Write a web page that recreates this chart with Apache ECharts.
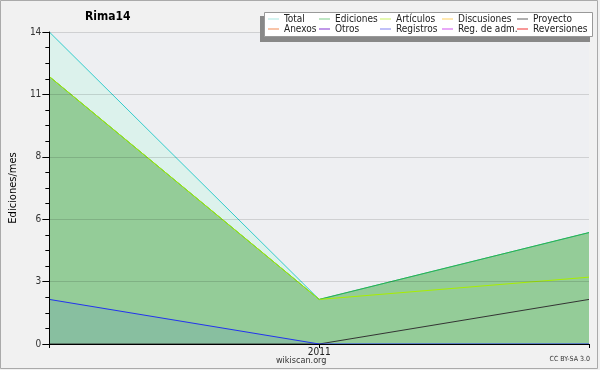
<!DOCTYPE html>
<html>
<head>
<meta charset="utf-8">
<script src="https://cdn.jsdelivr.net/npm/echarts@6/dist/echarts.min.js"></script>
<style>
html,body{margin:0;padding:0;background:#f1f1f1;}
#chart{width:600px;height:370px;}
</style>
</head>
<body>
<div id="chart"></div>
<script>
// ---- data ----
var categories = ['2010-12', '2011-01', '2011-02'];
var xTickLabels = ['', '2011', ''];
var totalValues = [14, 2, 5];
var edicionesValues = [12, 2, 5];
var articulosValues = [12, 2, 3];
var proyectoValues = [0, 0, 2];
var registrosValues = [2, 0, 0];
var emptyValues = [];
var legendCol1 = ['Total', 'Anexos'];
var legendCol2 = ['Ediciones', 'Otros'];
var legendCol3 = ['Artículos', 'Registros'];
var legendCol4 = ['Discusiones', 'Reg. de adm.'];
var legendCol5 = ['Proyecto', 'Reversiones'];

var FONT = "'DejaVu Sans Condensed', 'DejaVu Sans', sans-serif";
var legendColors = {
  'Total': '#a8e6e0', 'Ediciones': '#7ccc88', 'Artículos': '#c8f060',
  'Discusiones': '#ffd060', 'Proyecto': '#606060', 'Anexos': '#f08850',
  'Otros': '#8030d0', 'Registros': '#8080f0', 'Reg. de adm.': '#d050f0',
  'Reversiones': '#f03030'
};

function legendFor(names, left) {
  return {
    z: 100, zlevel: 0,
    left: left, top: 14, orient: 'vertical', padding: 0, itemGap: 0,
    itemWidth: 11, itemHeight: 1, icon: 'rect',
    selectedMode: false,
    textStyle: { fontFamily: FONT, fontSize: 10, color: '#222', lineHeight: 10, padding: [0, 0, 0, 0] },
    data: names.map(function (n) { return { name: n, itemStyle: { color: legendColors[n] } }; })
  };
}

function lineSeries(name, data, lineColor, areaColor) {
  var s = {
    name: name, type: 'line', data: data, symbol: 'none', silent: true,
    color: lineColor,
    lineStyle: { color: lineColor, width: 1 },
    animation: false
  };
  if (areaColor) s.areaStyle = { color: areaColor, opacity: 1 };
  return s;
}

var chart = echarts.init(document.getElementById('chart'), null, { renderer: 'canvas' });
chart.setOption({
  backgroundColor: '#f1f1f1',
  animation: false,
  title: {
    text: 'Rima14', left: 85, top: 11, padding: 0,
    textStyle: { fontFamily: FONT, fontSize: 12, fontWeight: 'bold', color: '#000' }
  },
  legend: [legendFor(legendCol1, 268), legendFor(legendCol2, 319), legendFor(legendCol3, 380), legendFor(legendCol4, 442), legendFor(legendCol5, 517)],
  grid: { left: 46, right: 11, top: 32, bottom: 26, show: true, backgroundColor: '#eeeff2', borderWidth: 0 },
  xAxis: {
    type: 'category', data: categories, boundaryGap: false, z: 10,
    axisLine: { lineStyle: { color: '#000', width: 1 } },
    axisTick: { show: true, interval: 0, length: 4, lineStyle: { color: '#000' } },
    axisLabel: {
      interval: 0, margin: 3, fontFamily: FONT, fontSize: 10, color: '#222',
      formatter: function (v, i) { return xTickLabels[i]; }
    },
    splitLine: { show: false }
  },
  yAxis: {
    type: 'value', min: 0, max: 14, interval: 2.8, z: 10,
    name: 'Ediciones/mes', nameLocation: 'middle', nameRotate: 90, nameGap: 29,
    nameTextStyle: { fontFamily: FONT, fontSize: 11, color: '#000' },
    axisLine: { show: true, lineStyle: { color: '#000', width: 1 } },
    axisTick: { show: true, length: 7, lineStyle: { color: '#000' } },
    minorTick: { show: true, splitNumber: 4, length: 4, lineStyle: { color: '#000' } },
    axisLabel: {
      margin: 8, fontFamily: FONT, fontSize: 10, color: '#333',
      formatter: function (v) { return String(Math.round(v)); }
    },
    splitLine: { show: true, lineStyle: { color: 'rgba(0,0,0,0.13)', width: 1 } }
  },
  series: [
    lineSeries('Total', totalValues, '#33cccc', '#dcf2ec'),
    lineSeries('Ediciones', edicionesValues, '#33b044', '#94cc98'),
    lineSeries('Artículos', articulosValues, '#a8ee00', null),
    lineSeries('Discusiones', emptyValues, '#ffd060', null),
    lineSeries('Proyecto', proyectoValues, '#333333', null),
    lineSeries('Anexos', emptyValues, '#f08850', null),
    lineSeries('Otros', emptyValues, '#8030d0', null),
    lineSeries('Registros', registrosValues, '#2233ee', '#88bfa0'),
    lineSeries('Reg. de adm.', emptyValues, '#d050f0', null),
    lineSeries('Reversiones', emptyValues, '#f03030', null)
  ],
  graphic: [
    { type: 'rect', z: -10, silent: true, shape: { x: 0.5, y: 0.5, width: 597, height: 368 }, style: { fill: null, stroke: '#aaaaaa', lineWidth: 1 } },
    { type: 'rect', z: 50, silent: true, shape: { x: 260, y: 16, width: 330, height: 26 }, style: { fill: '#888888' } },
    { type: 'rect', z: 51, silent: true, shape: { x: 264.5, y: 12.5, width: 328, height: 24 }, style: { fill: '#ffffff', stroke: '#999999', lineWidth: 1 } },
    { type: 'text', z: 60, left: 276, top: 356, style: { text: 'wikiscan.org', fontFamily: FONT, fontSize: 9, fill: '#333' } },
    { type: 'text', z: 60, right: 10, top: 356, style: { text: 'CC BY-SA 3.0', fontFamily: FONT, fontSize: 7, fill: '#333' } }
  ]
});
</script>
</body>
</html>
